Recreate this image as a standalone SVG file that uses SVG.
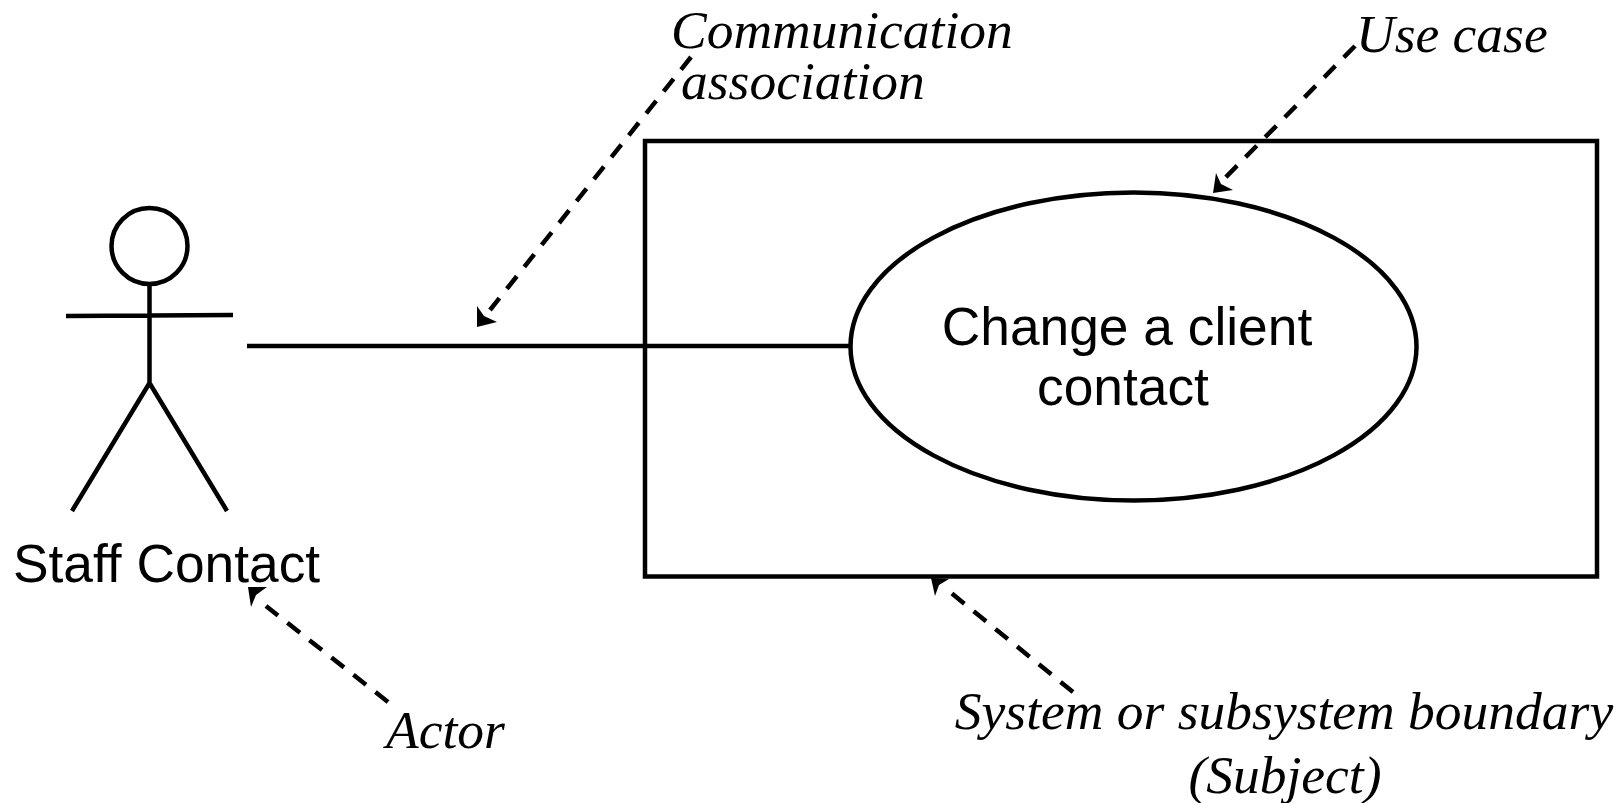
<svg xmlns="http://www.w3.org/2000/svg" width="1623" height="803" viewBox="0 0 1623 803">
<style>
.s{fill:none;stroke:#000;stroke-width:4.5}
.d{fill:none;stroke:#000;stroke-width:4.5;stroke-dasharray:16 12}
.h{fill:#000;stroke:none}
.n{font-family:"Liberation Sans",Arial,sans-serif;font-size:53.3px;fill:#000}
.i{font-family:"Liberation Serif","Times New Roman",serif;font-style:italic;font-size:53.5px;fill:#000}
</style>
<rect width="1623" height="803" fill="#fff"/>
<g id="connectors">
<path id="association" class="s" d="M247 346H851"/>
<path class="d" d="M691 57L490 310"/>
<path class="h" d="M477 327L477 306L484 316L497 322Z"/>
<path class="d" d="M1355 46L1225 178"/>
<path class="h" d="M1213 193L1216 173L1221 184L1233 190Z"/>
<path class="d" d="M388 702L266 606"/>
<path class="h" d="M248 587L267 587L256 595L251 607Z"/>
<path class="d" d="M1073 692L950 592"/>
<path class="h" d="M931 578L949 579L939 585L935 596Z"/>
</g>
<g id="boundary"><rect class="s" x="645" y="141" width="952" height="435.500"/></g>
<g id="actor">
<circle class="s" cx="149.500" cy="246" r="38"/>
<path class="s" d="M149.500 284V383M66 316L233 315M149.500 383L72 511M149.500 383L227 511"/>
<text class="n" x="13" y="582">Staff Contact</text>
</g>
<g id="usecase">
<ellipse class="s" cx="1133.500" cy="346.500" rx="283" ry="154"/>
<text class="n" x="1127" y="345" text-anchor="middle">Change a client</text>
<text class="n" x="1123" y="405" text-anchor="middle">contact</text>
</g>
<g id="notes">
<text class="i" x="671" y="48">Communication</text>
<text class="i" x="681" y="99">association</text>
<text class="i" x="1356" y="52">Use case</text>
<text class="i" x="386" y="748">Actor</text>
<text class="i" x="1284" y="729" text-anchor="middle">System or subsystem boundary</text>
<text class="i" x="1285" y="793" text-anchor="middle">(Subject)</text>
</g>
</svg>
